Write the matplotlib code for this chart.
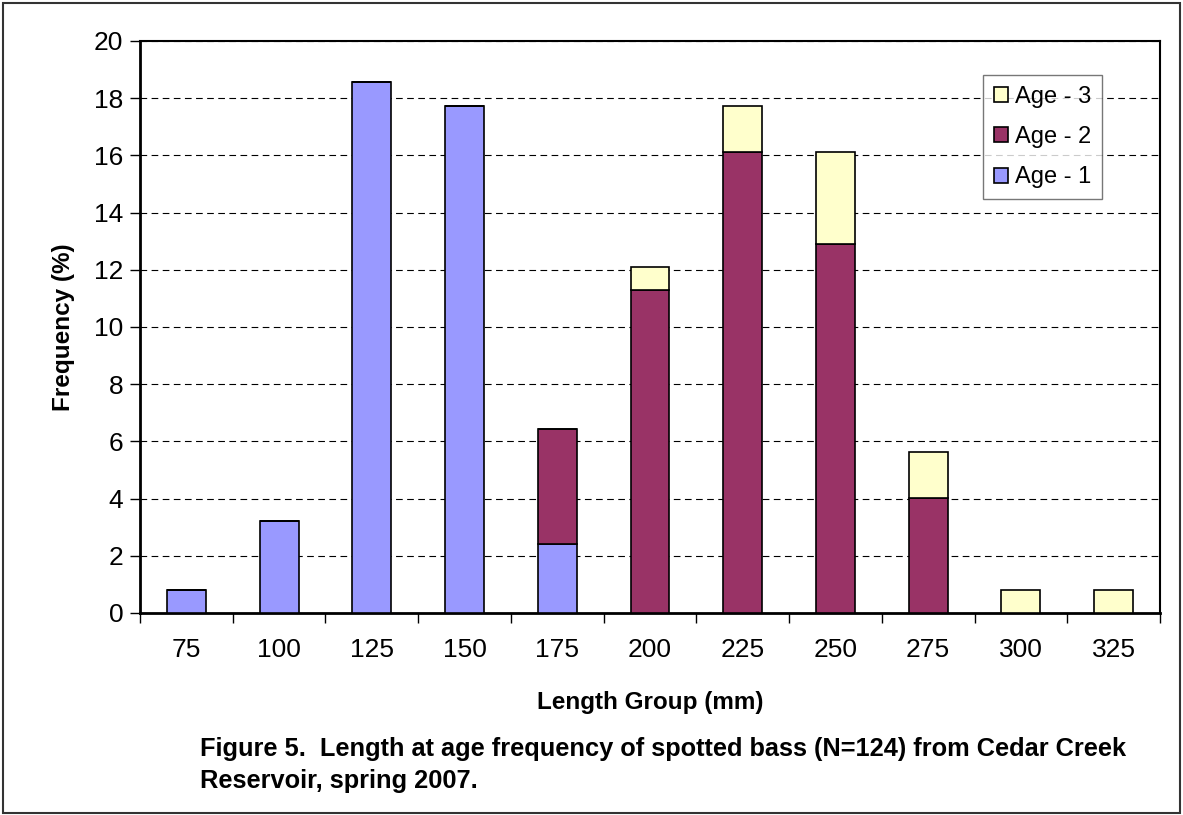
import matplotlib.pyplot as plt
from matplotlib.patches import Rectangle
import numpy as np

plt.rcParams['font.family'] = ['Liberation Sans', 'DejaVu Sans']

# length groups (mm) and frequency (%) by age, N=124
groups = ['75', '100', '125', '150', '175', '200', '225', '250', '275', '300', '325']
age1 = [0.81, 3.23, 18.55, 17.74, 2.42, 0, 0, 0, 0, 0, 0]
age2 = [0, 0, 0, 0, 4.03, 11.29, 16.13, 12.90, 4.03, 0, 0]
age3 = [0, 0, 0, 0, 0, 0.81, 1.61, 3.23, 1.61, 0.81, 0.81]

fig = plt.figure(figsize=(11.83, 8.15), dpi=100)
ax = fig.add_axes([140/1183, 1 - 613/815, 1020/1183, 572/815])

x = np.arange(len(groups))
a1 = np.array(age1)
a2 = np.array(age2)
a3 = np.array(age3)
w = 0.42
ax.bar(x, a1, w, color='#9999FF', edgecolor='black', linewidth=1.2, label='Age - 1', zorder=3)
ax.bar(x, a2, w, bottom=a1, color='#993366', edgecolor='black', linewidth=1.2, label='Age - 2', zorder=3)
ax.bar(x, a3, w, bottom=a1 + a2, color='#FFFFCC', edgecolor='black', linewidth=1.2, label='Age - 3', zorder=3)

ax.set_xlim(-0.5, len(groups) - 0.5)
ax.set_ylim(0, 20)
ax.set_yticks(range(0, 21, 2))
ax.tick_params(axis='y', labelsize=19, length=7, width=1, direction='out', pad=5)
ax.set_xticks(x)
ax.set_xticklabels(groups)
ax.set_xticks(np.arange(-0.5, len(groups), 1), minor=True)
ax.tick_params(axis='x', which='major', length=0, labelsize=19, pad=18)
ax.tick_params(axis='x', which='minor', length=7, width=1, direction='out')
ax.yaxis.grid(True, linestyle=(0, (6, 4)), color='black', linewidth=0.8, zorder=0)
for s in ['left', 'bottom']:
    ax.spines[s].set_linewidth(2)
for s in ['top', 'right']:
    ax.spines[s].set_linewidth(1.5)

ax.set_ylabel('Frequency (%)', fontsize=17.5, fontweight='bold', labelpad=14)
ax.set_xlabel('Length Group (mm)', fontsize=17.5, fontweight='bold', labelpad=21)

h, l = ax.get_legend_handles_labels()
leg = ax.legend(h[::-1], l[::-1], loc='upper left', bbox_to_anchor=((983 - 140) / 1020, 1 - (75 - 41) / 572),
                fontsize=17, frameon=True, fancybox=False, edgecolor='#555555',
                handlelength=0.6, handleheight=0.6, handletextpad=0.3, labelspacing=0.78, borderpad=0.45,
                borderaxespad=0)
leg.get_frame().set_linewidth(1)

fig.text(200/1183, 1 - 749/815, 'Figure 5.  Length at age frequency of spotted bass (N=124) from Cedar Creek',
         fontsize=18.3, fontweight='bold', va='center')
fig.text(200/1183, 1 - 781/815, 'Reservoir, spring 2007.',
         fontsize=18.3, fontweight='bold', va='center')

fig.patches.append(Rectangle((3/1183, 2/815), 1177/1183, 810/815, transform=fig.transFigure,
                             fill=False, edgecolor='#333333', linewidth=1.5))

fig.savefig('out.png', dpi=100)
